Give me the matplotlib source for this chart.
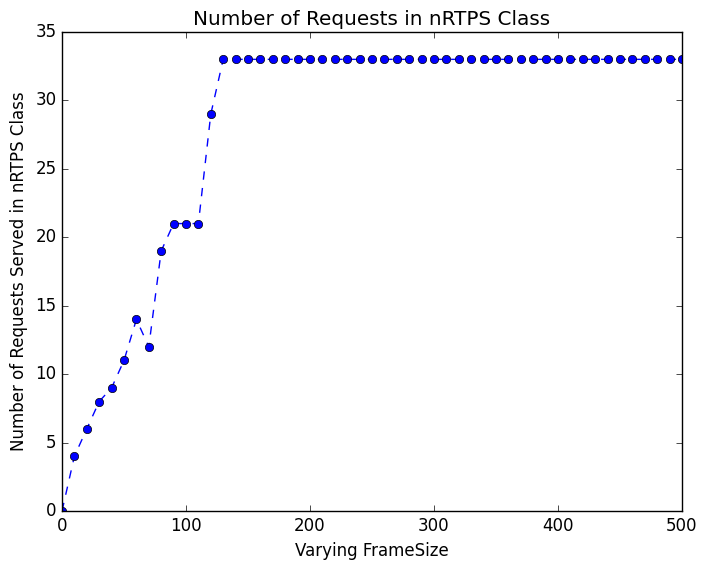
import matplotlib
matplotlib.use("Agg")
import matplotlib.pyplot as plt

frame_sizes = list(range(0, 501, 10))
early_requests = [0, 4, 6, 8, 9, 11, 14, 12, 19, 21, 21, 21, 29]
requests = early_requests + [33] * (len(frame_sizes) - len(early_requests))

plt.style.use('classic')
fig = plt.figure(figsize=(7.07, 5.70), dpi=100, facecolor='white')
ax = fig.add_axes([0.0877, 0.1035, 0.8769, 0.8404])
ax.plot(frame_sizes, requests, 'b--o')
ax.set_xlim(0, 500)
ax.set_ylim(0, 35)
ax.set_title("Number of Requests in nRTPS Class")
ax.set_xlabel("Varying FrameSize")
ax.set_ylabel("Number of Requests Served in nRTPS Class")
fig.savefig("out.png", dpi=100, facecolor='white')
